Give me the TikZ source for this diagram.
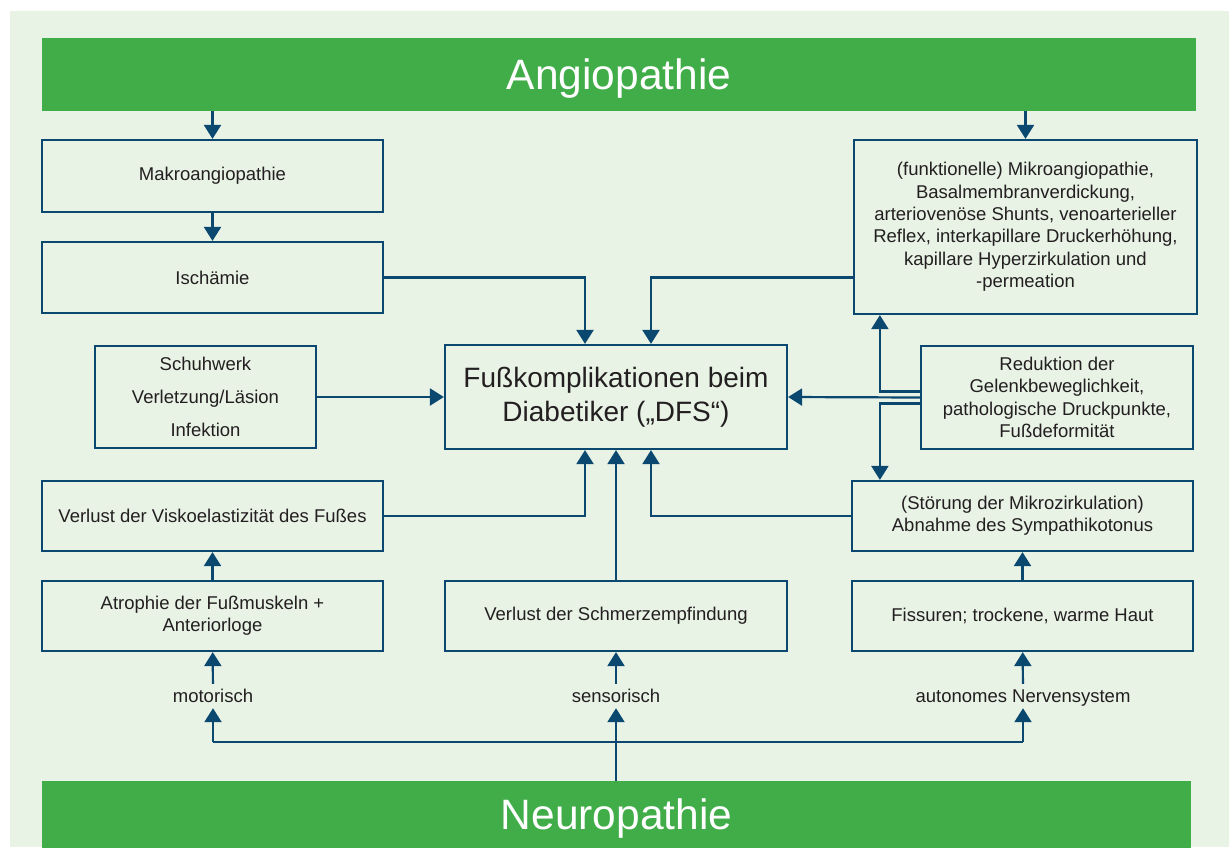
\documentclass[tikz,border=0pt]{standalone}
\usepackage{fontspec}
\setmainfont{Liberation Sans}
\usepackage{tikz}
\usetikzlibrary{arrows.meta,calc}
\definecolor{angiogreen}{HTML}{41AD49}
\definecolor{paper}{HTML}{E8F3E6}
\definecolor{navy}{HTML}{0B4870}
\definecolor{ink}{HTML}{231F20}
\tikzstyle{box}=[draw=navy, line width=2.2pt, text=ink, align=center, inner sep=0pt, font=\fontsize{18.5}{22.4}\selectfont]
\tikzstyle{bar}=[fill=angiogreen, text=white, inner sep=0pt, text depth=0pt, font=\fontsize{42.5}{50}\selectfont]
\tikzstyle{lab}=[text=ink, inner sep=4pt, text height=14pt, text depth=2pt, font=\fontsize{18.5}{22.4}\selectfont]
\tikzstyle{con}=[draw=navy, line width=2.2pt]
\tikzstyle{arr}=[con, -{Triangle[width=17pt,length=14pt]}]

\begin{document}
\begin{tikzpicture}[x=1pt,y=-1pt]
				\useasboundingbox (0,0) rectangle (1229,847);
				\fill[white] (0,0) rectangle (1229,847);
				\fill[paper] (10,11) rectangle (1229,847);
				
				\node[bar, minimum width=1154pt, minimum height=73pt] (angio) at (619,74.5) {Angiopathie};
				\node[bar, minimum width=1149pt, minimum height=67pt] (neuro) at (616.5,814.5) {Neuropathie};
				
				\node[box, minimum width=341pt, minimum height=72pt] (makro) at (212.5,176) {Makroangiopathie};
				\node[box, minimum width=341pt, minimum height=71pt] (isch) at (212.5,277.5) {Ischämie};
				\node[box, minimum width=221pt, minimum height=102pt] (schuh) at (205.5,397) {Schuhwerk\\[10.6pt] Verletzung/Läsion\\[10.6pt] Infektion};
				\node[box, minimum width=342pt, minimum height=104pt, font=\fontsize{28}{34}\selectfont] (dfs) at (616,397) {Fußkomplikationen beim\\ Diabetiker („DFS“)};
				\node[box, minimum width=343pt, minimum height=174pt] (mikro) at (1025.5,227) {(funktionelle) Mikroangiopathie,\\ Basalmembranverdickung,\\ arteriovenöse Shunts, venoarterieller\\ Reflex, interkapillare Druckerhöhung,\\ kapillare Hyperzirkulation und\\ -permeation};
				\node[box, minimum width=272pt, minimum height=103pt] (redu) at (1057,397.5) {Reduktion der\\ Gelenkbeweglichkeit,\\ pathologische Druckpunkte,\\ Fußdeformität};
				\node[box, minimum width=341pt, minimum height=70pt] (visko) at (212.5,516) {Verlust der Viskoelastizität des Fußes};
				\node[box, minimum width=341pt, minimum height=70pt] (stoer) at (1022.5,516) {(Störung der Mikrozirkulation)\\ Abnahme des Sympathikotonus};
				\node[box, minimum width=341pt, minimum height=70pt] (atro) at (212.5,616) {Atrophie der Fußmuskeln +\\ Anteriorloge};
				\node[box, minimum width=342pt, minimum height=70pt] (schmerz) at (616,616) {Verlust der Schmerzempfindung};
				\node[box, minimum width=341pt, minimum height=70pt] (fiss) at (1022.5,616) {Fissuren; trockene, warme Haut};
				
				\node[lab] (motor) at (213,696) {motorisch};
				\node[lab] (sensor) at (616,696) {sensorisch};
				\node[lab] (auto) at (1023,696) {autonomes Nervensystem};
				\coordinate (hl) at (213,742);
				\coordinate (hr) at (1023,742);
				
				\draw[arr] (angio.south -| makro.north) -- (makro.north);
				\draw[arr] (angio.south -| mikro.north) -- (mikro.north);
				\draw[arr] (makro) -- (isch);
				\draw[arr] (isch.east) -| ([xshift=-31pt]dfs.north);
				\draw[arr] (mikro.west |- isch.east) -| ([xshift=35pt]dfs.north);
				\draw[arr] (schuh.east) -- (dfs.west);
				\draw[arr] (redu.west) -- (dfs.east);
				\draw[arr] ([yshift=6pt]redu.west) -| ([xshift=27pt]mikro.south west);
				\draw[arr] ([yshift=-6pt]redu.west) -| ([xshift=29pt]stoer.north west);
				\draw[arr] (visko.east) -| ([xshift=-31pt]dfs.south);
				\draw[arr] (schmerz.north) -- (dfs.south);
				\draw[arr] (stoer.west) -| ([xshift=35pt]dfs.south);
				\draw[arr] (atro) -- (visko);
				\draw[arr] (fiss) -- (stoer);
				\draw[arr] (motor) -- (atro);
				\draw[arr] (sensor) -- (schmerz);
				\draw[arr] (auto) -- (fiss);
				
				\draw[con] (hl) -- (hr);
				\draw[arr] (hl) -- (motor);
				\draw[arr] (hr) -- (auto);
				\draw[arr] (neuro.north -| sensor) -- (sensor);
			\end{tikzpicture}
\end{document}
